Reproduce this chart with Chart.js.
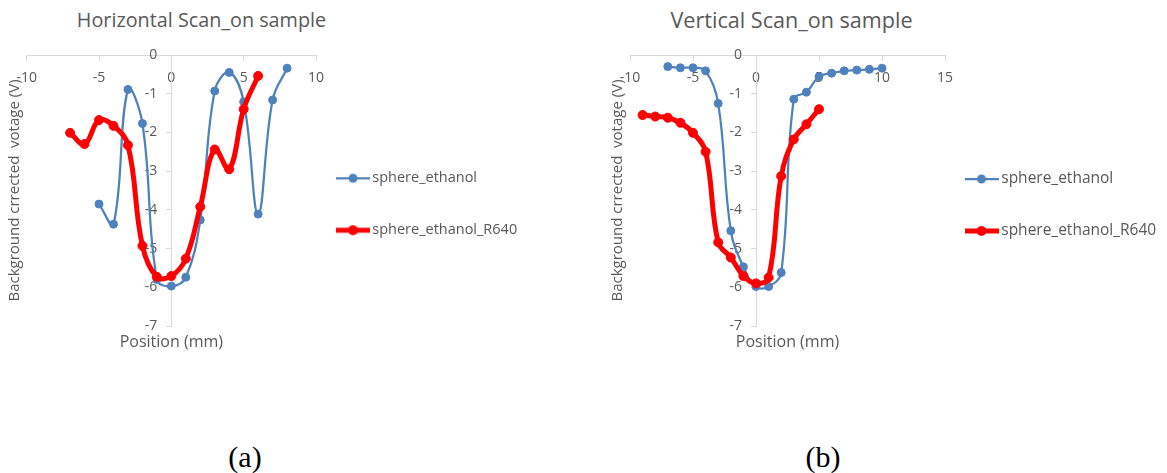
<!DOCTYPE html>
<html>
<head>
<meta charset="utf-8">
<title>Horizontal and vertical scans on sample</title>
<script src="https://cdn.jsdelivr.net/npm/chart.js@4.4.1/dist/chart.umd.min.js"></script>
<style>
  html, body { margin: 0; padding: 0; background: #ffffff; }
  body { width: 1167px; height: 473px; position: relative; overflow: hidden; }
  canvas { position: absolute; top: 0; }
  #chartA { left: 0; }
  #chartB { left: 583px; }
  .title {
    position: absolute; top: 20px; transform: translate(-50%, -50%);
    font-family: 'Open Sans', sans-serif; line-height: 1.2;
    color: #595959; white-space: nowrap;
  }
  .panel {
    position: absolute; top: 457px; transform: translate(-50%, -50%);
    font-family: 'Liberation Serif', 'Times New Roman', serif; font-size: 30px; line-height: 1.2;
    color: #000000; white-space: nowrap;
  }
</style>
</head>
<body>
<div class="title" style="left:201.5px; font-size:19.8px">Horizontal Scan_on sample</div>
<div class="title" style="left:791.5px; font-size:21.6px">Vertical Scan_on sample</div>
<canvas id="chartA" width="583" height="366"></canvas>
<canvas id="chartB" width="584" height="367"></canvas>
<div class="panel" style="left:245px">(a)</div>
<div class="panel" style="left:823px">(b)</div>
<script>
// Horizontal scan: position (mm) and background-corrected voltage (V)
const hPosEthanol = [-5, -4, -3, -2, -1, 0, 1, 2, 3, 4, 5, 6, 7, 8];
const hEthanol = [-3.85, -4.37, -0.89, -1.77, -5.8, -5.97, -5.74, -4.26, -0.93, -0.45, -1.21, -4.11, -1.16, -0.34];
const hPosR640 = [-7, -6, -5, -4, -3, -2, -1, 0, 1, 2, 3, 4, 5, 6];
const hR640 = [-2.01, -2.30, -1.68, -1.83, -2.33, -4.93, -5.73, -5.71, -5.26, -3.92, -2.44, -2.95, -1.40, -0.54];

// Vertical scan
const vPosEthanol = [-7, -6, -5, -4, -3, -2, -1, 0, 1, 2, 3, 4, 5, 6, 7, 8, 9, 10];
const vEthanol = [-0.30, -0.33, -0.33, -0.41, -1.25, -4.54, -5.47, -5.98, -5.98, -5.62, -1.14, -0.96, -0.56, -0.47, -0.41, -0.39, -0.37, -0.34];
const vPosR640 = [-9, -8, -7, -6, -5, -4, -3, -2, -1, 0, 1, 2, 3, 4, 5];
const vR640 = [-1.55, -1.59, -1.62, -1.75, -2.01, -2.50, -4.84, -5.23, -5.71, -5.90, -5.75, -3.13, -2.18, -1.79, -1.40];

// Axis ranges and text
const seriesNames = ['sphere_ethanol', 'sphere_ethanol_R640'];
const xTitle = 'Position (mm)';
const yTitle = 'Background crrected  votage (V)';
const yRange = [-7, 0];
const hXRange = [-10, 10];
const vXRange = [-10, 15];

const TEXT = '#595959';
const AXIS = '#d9d9d9';
const BLUE = '#4f81bd';
const RED = '#ff0000';

Chart.defaults.font.family = "'Open Sans', sans-serif";
Chart.defaults.color = TEXT;

function points(xs, ys) {
  return xs.map((x, i) => ({ x: x, y: ys[i] }));
}

// Legend symbol: a short line with a marker in the middle
function legendMarker(ds) {
  const c = document.createElement('canvas');
  c.width = 34; c.height = 14;
  const g = c.getContext('2d');
  g.strokeStyle = ds.borderColor;
  g.lineWidth = ds.borderWidth;
  g.beginPath(); g.moveTo(0, 7); g.lineTo(34, 7); g.stroke();
  g.fillStyle = ds.pointBackgroundColor;
  g.beginPath(); g.arc(17, 7, ds.pointRadius + ds.pointBorderWidth / 2, 0, Math.PI * 2); g.fill();
  return c;
}

// The legend box is kept narrow for layout; let its labels draw to the canvas edge
const legendRoom = {
  id: 'legendRoom',
  afterLayout(chart) {
    const lg = chart.legend;
    if (lg) { lg.right = chart.width; lg.width = lg.right - lg.left; }
  }
};

function series(label, data, color, width, radius, order) {
  return {
    label: label, data: data, showLine: true, tension: 0.4,
    borderColor: color, backgroundColor: color, borderWidth: width,
    pointRadius: radius, pointBackgroundColor: color, pointBorderColor: color, pointBorderWidth: 1,
    order: order, xAxisID: 'x', yAxisID: 'y'
  };
}

function build(canvas, ethX, ethY, r6X, r6Y, xRange, L) {
  return new Chart(canvas, {
    type: 'scatter',
    data: {
      datasets: [
        series(seriesNames[0], points(ethX, ethY), BLUE, 2.25, 4, 1),
        series(seriesNames[1], points(r6X, r6Y), RED, 5, 4.5, 0)
      ]
    },
    plugins: [legendRoom],
    options: {
      responsive: false, animation: false, devicePixelRatio: 1, events: [],
      layout: { padding: { top: 55, left: 0, right: L.right, bottom: 0 } },
      plugins: {
        title: { display: false },
        tooltip: { enabled: false },
        legend: {
          position: 'right', align: 'center', maxWidth: 50,
          labels: {
            usePointStyle: true, pointStyleWidth: 24, padding: L.legendPad,
            font: { size: L.legendSize, lineHeight: L.legendLine }, color: TEXT,
            sort: (a, b) => a.datasetIndex - b.datasetIndex,
            generateLabels(chart) {
              const items = Chart.defaults.plugins.legend.labels.generateLabels(chart);
              return items.map(it => Object.assign(it, {
                text: [it.text],
                pointStyle: legendMarker(chart.data.datasets[it.datasetIndex])
              }));
            }
          }
        }
      },
      scales: {
        x: {
          type: 'linear', axis: 'x', position: { y: 0 }, min: xRange[0], max: xRange[1],
          ticks: { stepSize: 5, padding: 10, color: TEXT, font: { size: 14 } },
          grid: { display: true, drawOnChartArea: false, drawTicks: true, tickLength: 5, color: AXIS },
          border: { display: true, color: AXIS, width: 1 }
        },
        y: {
          type: 'linear', axis: 'y', position: { x: 0 }, min: yRange[0], max: yRange[1],
          ticks: { stepSize: 1, color: TEXT, font: { size: 14 },
                   callback: v => v + '\u2003' },
          grid: { display: true, drawOnChartArea: false, drawTicks: true, tickLength: 5, color: AXIS },
          border: { display: true, color: AXIS, width: 1 }
        },
        xt: {
          type: 'linear', axis: 'x', position: 'bottom', display: true, min: 0, max: 1,
          ticks: { display: false }, grid: { display: false, drawTicks: false }, border: { display: false },
          title: { display: true, text: xTitle, color: TEXT, font: { size: 16, lineHeight: 1.2 },
                   padding: { top: L.xtTop, bottom: L.xtBottom } }
        },
        yt: {
          type: 'linear', axis: 'y', position: 'left', display: true, min: 0, max: 1,
          ticks: { display: false }, grid: { display: false, drawTicks: false }, border: { display: false },
          title: { display: true, text: yTitle, color: TEXT, font: { size: 15, lineHeight: 1.2 },
                   padding: { top: L.ytTop, bottom: L.ytBottom } }
        }
      }
    }
  });
}

build(document.getElementById('chartA'), hPosEthanol, hEthanol, hPosR640, hR640, hXRange,
  { right: 217, legendPad: 25, legendLine: '27px', legendSize: 14.5,
    xtTop: 6.4, xtBottom: 14.4, ytTop: 6, ytBottom: 2.7 });
build(document.getElementById('chartB'), vPosEthanol, vEthanol, vPosR640, vR640, vXRange,
  { right: 172, legendPad: 24.5, legendLine: '27.5px', legendSize: 15.5,
    xtTop: 6.4, xtBottom: 15.4, ytTop: 26, ytBottom: 3 });
</script>
</body>
</html>
